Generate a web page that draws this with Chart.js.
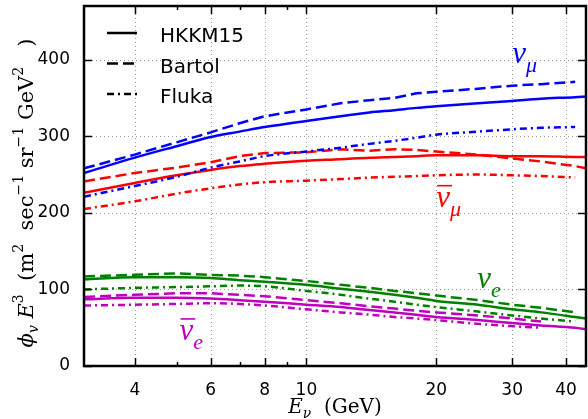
<!DOCTYPE html>
<html>
<head>
<meta charset="utf-8">
<script src="https://cdn.jsdelivr.net/npm/chart.js@4.4.1/dist/chart.umd.min.js"></script>
<style>
  html, body { margin: 0; padding: 0; background: #fff; }
</style>
</head>
<body>
<canvas id="flux" width="588" height="419"></canvas>
<script>
// neutrino energy grid (GeV)
const energy = [3.05, 4, 5, 6, 7, 8, 10, 12, 14, 16, 18, 20, 25, 30, 35, 42, 44.5];

// phi * E^3, one list per flavour and model
const numuHKKM    = [252, 272, 287, 299, 306, 312, 320, 326, 331, 334, 337, 339, 343, 346, 349, 351, 352];
const numuBartol  = [258, 276, 292, 305, 317, 326, 335, 343, 347, 350, 356, 358, 362, 366, 368, 371, null];
const numuFluka   = [221, 235, 247, 259, 267, 274, 280, 285, 290, 294, 298, 302, 306, 309, 311, 312, null];
const anumuHKKM   = [226, 239, 249, 256, 261, 264, 268, 270, 272, 273, 274, 275, 275, 274, 274, 273, 273];
const anumuBartol = [241, 252, 259, 266, 274, 278, 279, 283, 281, 283, 282, 280, 276, 271, 267, 261, 258];
const anumuFluka  = [205, 215, 225, 232, 237, 240, 242, 244, 246, 247, 248, 249, 250, 249, 248, 246, null];
const nueHKKM     = [113, 116, 116, 115, 112, 110, 106, 101, 97, 93, 89, 85, 80, 74, 70, 64, 62];
const nueBartol   = [117, 119, 121, 119, 118, 116, 111, 106, 102, 98, 95, 92, 86, 80, 76, 70, null];
const nueFluka    = [100, 102, 103, 104, 105, 104, 98, 93, 88, 84, 80, 77, 71, 66, 62, 58, null];
const anueHKKM    = [87, 89, 89, 88, 86, 84, 80, 77, 73, 70, 67, 64, 60, 56, 53, 50, 48];
const anueBartol  = [90, 93, 95, 95, 93, 91, 86, 82, 78, 75, 72, 70, 66, 62, 58, null, null];
const anueFluka   = [79, 80, 81, 82, 81, 79, 74, 70, 67, 64, 62, 60, 55, 52, 50, null, null];

const xTicks = [4, 6, 8, 10, 20, 30, 40];
const xMinor = [5, 7, 9];
const yTicks = [0, 100, 200, 300, 400];

const modelNames = ['HKKM15', 'Bartol', 'Fluka'];

const BLUE = '#0000ff', RED = '#ff0000', GREEN = '#008000', MAGENTA = '#bf00bf';
const SOLID = [], DASHED = [11, 5], DASHDOT = [7, 4, 2, 4];
const modelDash = [SOLID, DASHED, DASHDOT];

const series = [
  [numuHKKM, BLUE, 0], [numuBartol, BLUE, 1], [numuFluka, BLUE, 2],
  [anumuHKKM, RED, 0], [anumuBartol, RED, 1], [anumuFluka, RED, 2],
  [nueHKKM, GREEN, 0], [nueBartol, GREEN, 1], [nueFluka, GREEN, 2],
  [anueHKKM, MAGENTA, 0], [anueBartol, MAGENTA, 1], [anueFluka, MAGENTA, 2]
];

// curve labels: subscript, bar?, colour, energy, value
const tagSub   = ['\u03bc', '\u03bc', 'e', 'e'];
const tagBar   = [false, true, false, true];
const tagColor = [BLUE, RED, GREEN, MAGENTA];
const tagE     = [30, 20, 24.9, 5.08];
const tagY     = [396, 208, 102, 34];

const SERIF = '"Liberation Serif", "DejaVu Serif", serif';
const WIDE = '"DejaVu Serif", serif';
const SANS = '"DejaVu Sans", sans-serif';
const mi = s => `italic ${s}px ${SERIF}`;
const wi = s => `italic ${s}px ${WIDE}`;
const wr = s => `${s}px ${WIDE}`;

function richWidth(ctx, segs) {
  let w = 0;
  for (const s of segs) { ctx.font = s.f; w += ctx.measureText(s.t).width; }
  return w;
}
function drawRich(ctx, segs, x, y) {
  let cx = x;
  for (const s of segs) {
    ctx.font = s.f;
    ctx.fillText(s.t, cx, y + (s.dy || 0));
    cx += ctx.measureText(s.t).width;
  }
}

// dotted grid under the curves
const dottedGrid = {
  id: 'dottedGrid',
  beforeDatasetsDraw(chart) {
    const ctx = chart.ctx;
    const a = chart.chartArea;
    const xs = chart.scales.x, ys = chart.scales.y;
    ctx.save();
    ctx.strokeStyle = '#9a9a9a';
    ctx.lineWidth = 1;
    ctx.setLineDash([1, 3]);
    ctx.beginPath();
    xTicks.forEach(v => {
      const px = Math.round(xs.getPixelForValue(v)) + 0.5;
      ctx.moveTo(px, a.top); ctx.lineTo(px, a.bottom);
    });
    yTicks.forEach(v => {
      const py = Math.round(ys.getPixelForValue(v)) + 0.5;
      ctx.moveTo(a.left, py); ctx.lineTo(a.right, py);
    });
    ctx.stroke();
    ctx.restore();
  }
};

const frame = {
  id: 'frame',
  afterDraw(chart) {
    const ctx = chart.ctx;
    const a = chart.chartArea;
    const xs = chart.scales.x, ys = chart.scales.y;
    ctx.save();
    ctx.strokeStyle = '#000';
    ctx.lineWidth = 1.5;
    ctx.beginPath();
    xTicks.forEach(v => {
      const px = Math.round(xs.getPixelForValue(v)) + 0.5;
      ctx.moveTo(px, a.bottom); ctx.lineTo(px, a.bottom - 8);
      ctx.moveTo(px, a.top); ctx.lineTo(px, a.top + 8);
    });
    xMinor.forEach(v => {
      const px = Math.round(xs.getPixelForValue(v)) + 0.5;
      ctx.moveTo(px, a.bottom); ctx.lineTo(px, a.bottom - 4);
      ctx.moveTo(px, a.top); ctx.lineTo(px, a.top + 4);
    });
    yTicks.forEach(v => {
      const py = Math.round(ys.getPixelForValue(v)) + 0.5;
      ctx.moveTo(a.left, py); ctx.lineTo(a.left + 8, py);
      ctx.moveTo(a.right, py); ctx.lineTo(a.right - 8, py);
    });
    ctx.stroke();
    ctx.lineWidth = 2.5;
    ctx.strokeRect(a.left, a.top, a.right - a.left, a.bottom - a.top);

    // legend
    ctx.lineWidth = 2.5;
    ctx.fillStyle = '#000';
    ctx.font = `20px ${SANS}`;
    ctx.textBaseline = 'alphabetic';
    modelNames.forEach((name, i) => {
      const y = 33 + i * 30.5;
      ctx.setLineDash(modelDash[i]);
      ctx.beginPath();
      ctx.moveTo(107, y); ctx.lineTo(137, y);
      ctx.stroke();
      ctx.setLineDash([]);
      ctx.fillText(name, 160, y + 9);
    });

    // curve tags
    tagSub.forEach((sub, i) => {
      const px = xs.getPixelForValue(tagE[i]);
      const py = ys.getPixelForValue(tagY[i]);
      ctx.fillStyle = tagColor[i];
      ctx.strokeStyle = tagColor[i];
      ctx.font = mi(31);
      ctx.fillText('\u03bd', px, py);
      const w = ctx.measureText('\u03bd').width;
      if (tagBar[i]) {
        ctx.lineWidth = 1.6;
        ctx.beginPath();
        ctx.moveTo(px + 1, py - 21); ctx.lineTo(px + w + 2, py - 21);
        ctx.stroke();
      }
      ctx.font = mi(22);
      ctx.fillText(sub, px + w, py + 9);
    });

    // axis titles
    ctx.fillStyle = '#000';
    const xl = [
      { t: 'E', f: wi(20) }, { t: '\u03bd', f: wi(14), dy: 5 },
      { t: '  (GeV)', f: wr(20) }
    ];
    drawRich(ctx, xl, (a.left + a.right) / 2 - richWidth(ctx, xl) / 2, 413);

    const yl = [
      { t: '\u03d5', f: wi(21) }, { t: 'v', f: wi(14), dy: 5 },
      { t: ' E', f: wi(21) }, { t: '3', f: wr(14), dy: -10 },
      { t: '  (m', f: wr(21) }, { t: '2', f: wr(14), dy: -10 },
      { t: '  sec', f: wr(21) }, { t: '\u22121', f: wr(14), dy: -10 },
      { t: ' sr', f: wr(21) }, { t: '\u22121', f: wr(14), dy: -10 },
      { t: ' GeV', f: wr(21) }, { t: '2', f: wr(14), dy: -10 },
      { t: '   )', f: wr(21) }
    ];
    ctx.translate(33, 193);
    ctx.rotate(-Math.PI / 2);
    drawRich(ctx, yl, -richWidth(ctx, yl) / 2, 0);
    ctx.restore();
  }
};

new Chart(document.getElementById('flux'), {
  type: 'line',
  data: {
    datasets: series.map(([vals, color, m]) => ({
      data: energy.map((e, i) => ({ x: e, y: vals[i] })),
      borderColor: color,
      borderWidth: 2.5,
      borderDash: modelDash[m],
      pointRadius: 0,
      fill: false,
      spanGaps: false,
      cubicInterpolationMode: m === 1 ? 'default' : 'monotone',
      tension: m === 1 ? 0 : 0.4
    }))
  },
  options: {
    responsive: false,
    devicePixelRatio: 1,
    animation: false,
    layout: { padding: { left: 0, top: 6, right: 2, bottom: 0 } },
    plugins: { legend: { display: false }, tooltip: { enabled: false } },
    scales: {
      x: {
        type: 'logarithmic',
        min: 3.05,
        max: 44.5,
        afterBuildTicks: s => { s.ticks = xTicks.map(v => ({ value: v })); },
        afterFit: s => { s.height = 53; s.paddingLeft = 0; s.paddingRight = 0; },
        ticks: {
          autoSkip: false, maxRotation: 0, padding: 6, color: '#000',
          font: { family: SANS, size: 17 },
          callback: v => String(v)
        },
        grid: { display: false },
        border: { display: false }
      },
      y: {
        min: 0,
        max: 470,
        afterBuildTicks: s => { s.ticks = yTicks.map(v => ({ value: v })); },
        afterFit: s => { s.width = 84; s.paddingTop = 0; s.paddingBottom = 0; },
        ticks: {
          padding: 6, color: '#000',
          font: { family: SANS, size: 17 }
        },
        grid: { display: false },
        border: { display: false }
      }
    }
  },
  plugins: [dottedGrid, frame]
});
</script>
</body>
</html>
